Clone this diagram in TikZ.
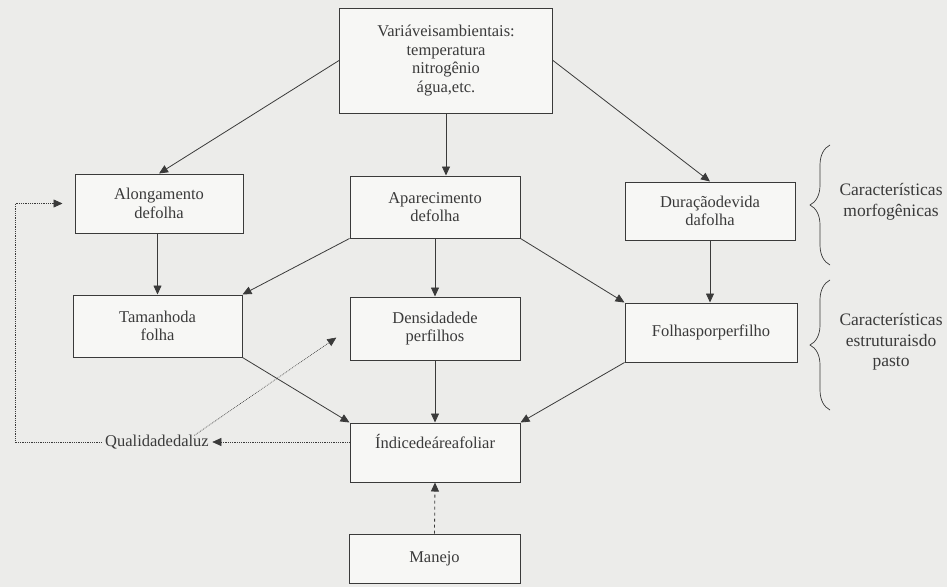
\documentclass[tikz,border=0pt]{standalone}
\usepackage{fontspec}
\setmainfont{Liberation Serif}
\usetikzlibrary{arrows.meta,decorations.pathreplacing}
\definecolor{paper}{RGB}{236,236,234}
\definecolor{boxfill}{RGB}{247,247,245}
\definecolor{ink}{RGB}{58,58,58}

\begin{document}
\begin{tikzpicture}[x=1pt,y=-1pt,
  font=\fontsize{16.5}{18.5}\selectfont, color=ink,
  box/.style={draw=ink, fill=boxfill, line width=1pt, align=center, inner sep=0pt},
  flow/.style={-{Triangle[length=9pt,width=8pt]}, line width=0.8pt},
  weak/.style={flow, densely dotted, line width=0.6pt},
  curly/.style={decorate, decoration={brace,amplitude=20pt}, line width=0.7pt}]
  \fill[paper] (0,0) rectangle (947,587) ;
  \useasboundingbox (0,0) rectangle (947,587) ;
  % boxes
  \node[box, minimum width=213pt, minimum height=105pt] (var) at (446,60.5)
    {Variáveisambientais:\\temperatura\\nitrogênio\\água,etc.};
  \node[box, minimum width=168pt, minimum height=59pt] (along) at (159,203.5) {Alongamento\\defolha};
  \node[box, minimum width=170pt, minimum height=62pt] (apar) at (435,207) {Aparecimento\\defolha};
  \node[box, minimum width=170pt, minimum height=58pt] (dur) at (710,211) {Duraçãodevida\\dafolha};
  \node[box, minimum width=169pt, minimum height=62pt] (tam) at (157.5,326) {Tamanhoda\\folha};
  \node[box, minimum width=170pt, minimum height=63pt] (dens) at (435,328.5) {Densidadede\\perfilhos};
  \node[box, minimum width=172pt, minimum height=59pt] (folhas) at (711,332.5) {Folhasporperfilho};
  \node[box, minimum width=170pt, minimum height=59pt, text height=12pt, text depth=20pt] (indice) at (435,452.5) {Índicedeáreafoliar};
  \node[box, minimum width=171pt, minimum height=49pt] (manejo) at (434.5,558.5) {Manejo};
  \node (qual) at (157,442) {Qualidadedaluz};
  \coordinate (loop) at (15,0) ;
  % arrows
  \draw[flow] (var.west) -- (along.north) ;
  \draw[flow] (var.south) -- (var.south |- apar.north) ;
  \draw[flow] (var.east) -- (dur.north) ;
  \draw[flow] (tam.north |- along.south) -- (tam.north) ;
  \draw[flow] (apar.south west) -- (tam.north east) ;
  \draw[flow] (apar.south) -- (dens.north) ;
  \draw[flow] (apar.south east) -- (folhas.north west) ;
  \draw[flow] (dur.south) -- (dur.south |- folhas.north) ;
  \draw[flow] (tam.south east) -- (indice.north west) ;
  \draw[flow] (dens.south) -- (indice.north) ;
  \draw[flow] (folhas.south west) -- (indice.north east) ;
  \draw[flow, dashed] (manejo.north) -- (indice.south) ;
  \draw[weak] (indice.west |- qual.east) -- (qual.east) ;
  \draw[weak, shorten >=16pt] ([xshift=-18pt,yshift=-4pt]qual.north east) -- (dens.west) ;
  \draw[weak, shorten >=12pt] (qual.west) -- (loop |- qual.west) -- (loop |- along.west) -- (along.west) ;
  % braces
  \draw[curly] (830,265) -- (830,145) ;
  \draw[curly] (830,410) -- (830,280) ;
  \node[anchor=west, align=center, font=\fontsize{17.5}{20.5}\selectfont] (morfo) at (836,202) {Características\\morfogênicas};
  \node[anchor=west, align=center, font=\fontsize{17.5}{20.5}\selectfont] (estru) at (836,342) {Características\\estruturaisdo\\pasto};
\end{tikzpicture}
\end{document}
